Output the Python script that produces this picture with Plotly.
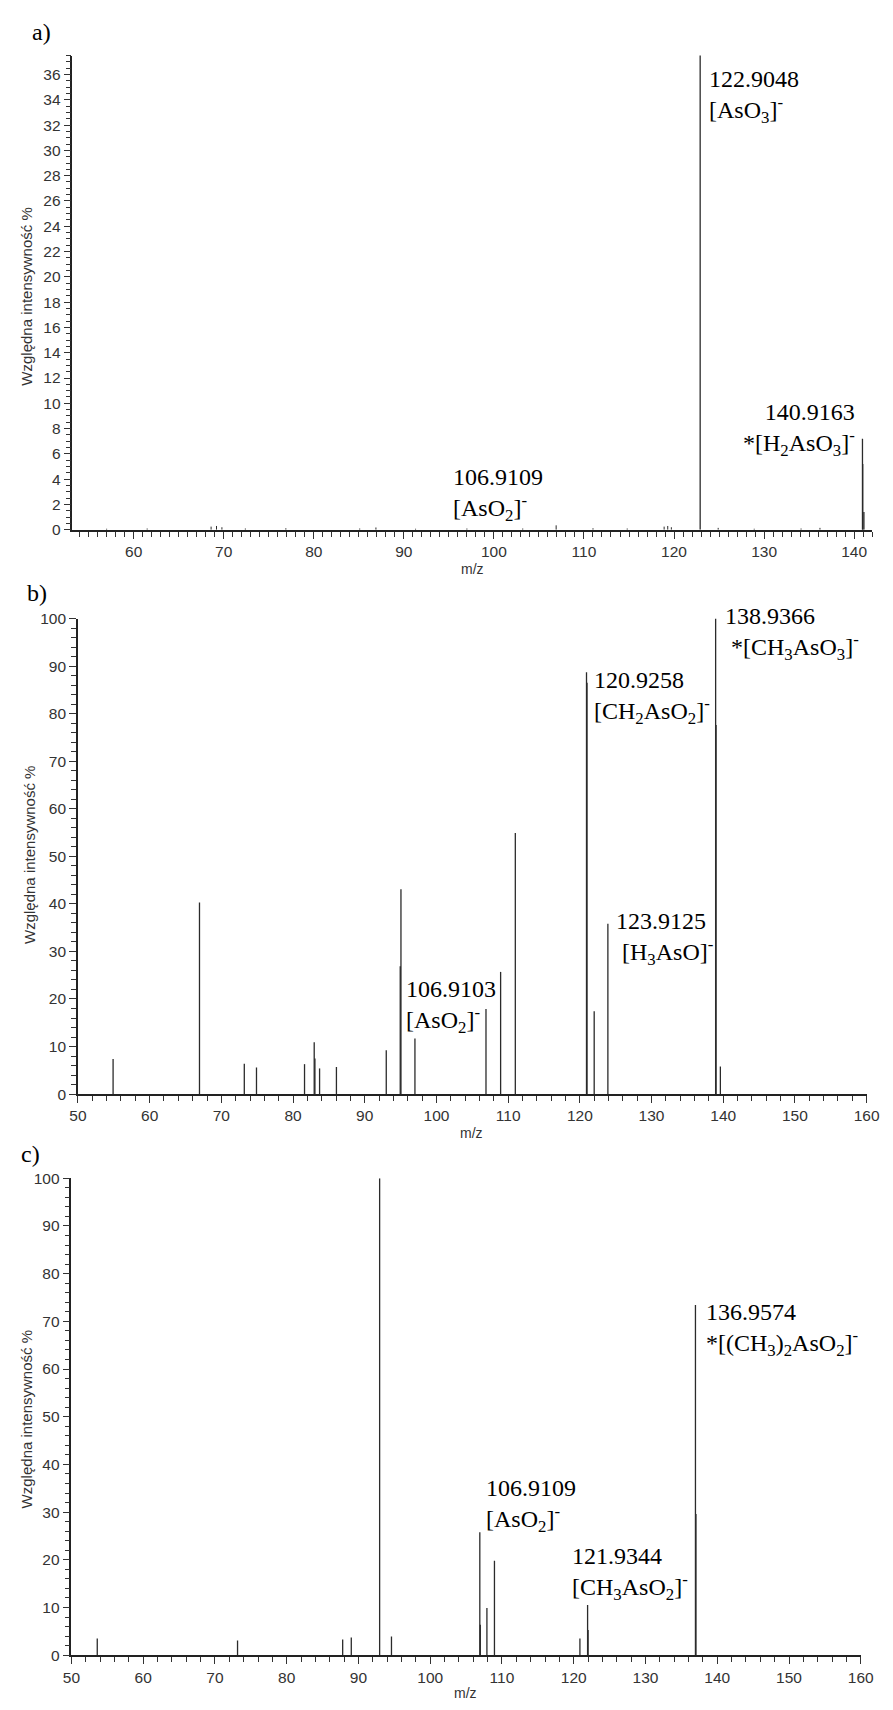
import plotly.graph_objects as go

# ---- spectrum a) ----
mz_a = [122.90, 140.92, 140.95, 141.08]
int_a = [100.0, 7.2, 5.2, 1.4]
# low-level baseline signals in spectrum a)
mz_a_noise = [57.0, 61.5, 68.6, 69.2, 69.8, 72.4, 76.9, 85.1, 86.9, 91.3, 97.0,
              103.2, 106.91, 111.0, 114.8, 118.9, 119.3, 119.7, 124.9, 128.9, 134.1, 136.2]
int_a_noise = [0.08, 0.10, 0.25, 0.30, 0.20, 0.10, 0.12, 0.10, 0.18, 0.08, 0.10,
               0.10, 0.35, 0.12, 0.10, 0.25, 0.30, 0.20, 0.15, 0.08, 0.10, 0.15]

# ---- spectrum b) ----
mz_b = [54.9, 66.95, 73.2, 74.9, 81.6, 82.95, 83.05, 83.7, 86.05, 93.0, 94.95, 95.05,
        97.0, 106.91, 108.95, 111.0, 120.93, 121.0, 122.0, 123.91, 138.94, 139.0, 139.6]
int_b = [7.4, 40.3, 6.4, 5.6, 6.3, 10.9, 7.5, 5.4, 5.7, 9.2, 26.9, 43.1,
         11.7, 17.9, 25.7, 54.9, 88.7, 86.5, 17.4, 35.8, 100.0, 77.6, 5.8]

# ---- spectrum c) ----
mz_c = [53.6, 73.15, 87.8, 89.0, 92.95, 94.6, 106.91, 106.98, 107.9, 108.95,
        120.86, 121.93, 122.0, 136.96, 137.03]
int_c = [3.5, 3.1, 3.3, 3.7, 100.0, 3.9, 25.8, 6.4, 9.9, 19.8,
         3.5, 10.5, 5.3, 73.4, 29.6]

# peak labels: (m/z text, ion formula, x, y, anchor)
labels_a = [
    ("122.9048", "[AsO<sub>3</sub>]<sup>-</sup>", 123.65, 34.3, "left"),
    ("140.9163", "*[H<sub>2</sub>AsO<sub>3</sub>]<sup>-</sup>", 140.36, 7.9, "right"),
    ("106.9109", "[AsO<sub>2</sub>]<sup>-</sup>", 95.2, 2.8, "left"),
]
labels_b = [
    ("138.9366", " *[CH<sub>3</sub>AsO<sub>3</sub>]<sup>-</sup>", 139.92, 96.8, "left"),
    ("120.9258", "[CH<sub>2</sub>AsO<sub>2</sub>]<sup>-</sup>", 121.73, 83.5, "left"),
    ("123.9125", " [H<sub>3</sub>AsO]<sup>-</sup>", 124.75, 32.8, "left"),
    ("106.9103", "[AsO<sub>2</sub>]<sup>-</sup>", 95.48, 18.5, "left"),
]
labels_c = [
    ("136.9574", "*[(CH<sub>3</sub>)<sub>2</sub>AsO<sub>2</sub>]<sup>-</sup>", 138.17, 68.2, "left"),
    ("106.9109", "[AsO<sub>2</sub>]<sup>-</sup>", 107.45, 31.4, "left"),
    ("121.9344", "[CH<sub>3</sub>AsO<sub>2</sub>]<sup>-</sup>", 119.46, 17.2, "left"),
]

W, H = 893, 1710
SERIF = "Liberation Serif, Times New Roman, serif"
SANS = "Liberation Sans, Arial, sans-serif"
INK = "#2b2b2b"


def stick_xy(mz, inten):
    xs, ys = [], []
    for m, v in zip(mz, inten):
        xs += [m, m, None]
        ys += [0, v, None]
    return xs, ys


def px_x(p):
    return p / W


def px_y(p):
    return 1 - p / H


fig = go.Figure()

for mz, inten, ax, lw in [
    (mz_a_noise, int_a_noise, "", 1.0),
    (mz_a, int_a, "", 1.3),
    (mz_b, int_b, "2", 1.3),
    (mz_c, int_c, "3", 1.3),
]:
    xs, ys = stick_xy(mz, inten)
    fig.add_trace(go.Scatter(
        x=xs, y=ys, mode="lines",
        line=dict(color=INK, width=lw),
        xaxis="x" + ax, yaxis="y" + ax,
        hoverinfo="skip", showlegend=False,
    ))

tickfont = dict(family=SANS, size=15.5, color="#333333")


def xaxis_cfg(rng, dom, anchor, minor_step):
    return dict(
        domain=dom, range=rng, anchor=anchor,
        showline=True, linecolor="#222222", linewidth=1.5,
        ticks="outside", ticklen=7, tickwidth=1, tickcolor="#333333",
        tick0=0, dtick=10, tickfont=tickfont,
        minor=dict(ticks="outside", ticklen=5, tickwidth=1, tickcolor="#333333",
                   tick0=0, dtick=minor_step, showgrid=False),
        showgrid=False, zeroline=False, fixedrange=True,
    )


def yaxis_cfg(rng, dom, anchor, major, minor_step):
    return dict(
        domain=dom, range=rng, anchor=anchor,
        showline=True, linecolor="#222222", linewidth=1.5,
        ticks="outside", ticklen=7, tickwidth=1, tickcolor="#333333",
        tick0=0, dtick=major, tickfont=tickfont,
        minor=dict(ticks="outside", ticklen=5, tickwidth=1, tickcolor="#333333",
                   tick0=0, dtick=minor_step, showgrid=False),
        showgrid=False, zeroline=False, fixedrange=True,
    )


fig.update_layout(
    width=W, height=H,
    margin=dict(l=0, r=0, t=0, b=0),
    paper_bgcolor="white", plot_bgcolor="white",
    xaxis=xaxis_cfg([53.2, 142.0], [px_x(65), px_x(885)], "y", 1),
    yaxis=yaxis_cfg([0, 37.5], [px_y(526), px_y(47)], "x", 2, 0.5),
    xaxis2=xaxis_cfg([50, 160], [px_x(70.7), px_x(879.3)], "y2", 2),
    yaxis2=yaxis_cfg([0, 100], [px_y(1096), px_y(615.7)], "x2", 10, 2),
    xaxis3=xaxis_cfg([50, 160], [px_x(64), px_x(873.3)], "y3", 2),
    yaxis3=yaxis_cfg([0, 100], [px_y(1662.7), px_y(1181)], "x3", 10, 2),
)

annotations = []
for labels, ax in [(labels_a, ""), (labels_b, "2"), (labels_c, "3")]:
    for mass, ion, x, y, anchor in labels:
        annotations.append(dict(
            x=x, y=y, xref="x" + ax, yref="y" + ax,
            text=f"{mass}<br>{ion}", showarrow=False,
            xanchor=anchor, yanchor="middle", align=anchor,
            font=dict(family=SERIF, size=24, color="black"),
        ))

# panel letters
for letter, px, py in [("a)", 22, 23), ("b)", 16, 590), ("c)", 10, 1157)]:
    annotations.append(dict(
        x=px_x(px), y=px_y(py), xref="paper", yref="paper",
        text=letter, showarrow=False, xanchor="left", yanchor="middle",
        font=dict(family=SERIF, size=24, color="black"),
    ))

# axis titles
for px, py in [(18, 291), (21, 854), (18, 1425)]:
    annotations.append(dict(
        x=px_x(px), y=px_y(py), xref="paper", yref="paper",
        text="Względna intensywność %", showarrow=False, textangle=-90,
        xanchor="center", yanchor="middle",
        font=dict(family=SANS, size=15, color="#333333"),
    ))
for px, py in [(475, 566), (474, 1135), (468, 1701)]:
    annotations.append(dict(
        x=px_x(px), y=px_y(py), xref="paper", yref="paper",
        text="m/z", showarrow=False, xanchor="center", yanchor="middle",
        font=dict(family=SANS, size=14, color="#333333"),
    ))

fig.update_layout(annotations=annotations)
fig.write_html("out.html")
